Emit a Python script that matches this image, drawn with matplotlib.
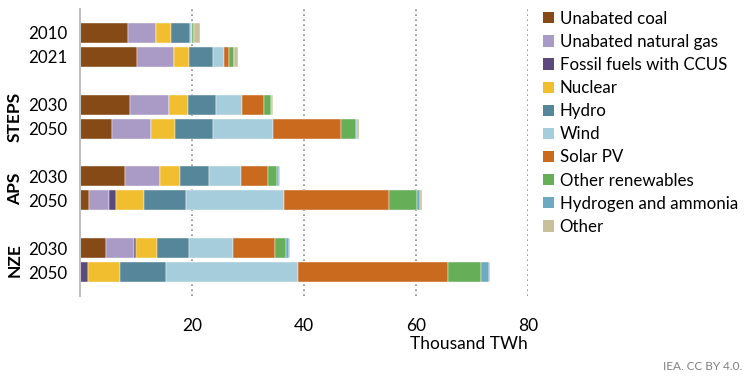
import matplotlib
matplotlib.use("Agg")
import matplotlib.pyplot as plt
from matplotlib import transforms
from matplotlib.patches import Patch

plt.rcParams['font.family'] = ['Lato', 'DejaVu Sans']

years = ["2010", "2021", "2030", "2050", "2030", "2050", "2030", "2050"]
groups = ["STEPS", "APS", "NZE"]
categories = ["Unabated coal", "Unabated natural gas", "Fossil fuels with CCUS", "Nuclear",
              "Hydro", "Wind", "Solar PV", "Other renewables", "Hydrogen and ammonia", "Other"]

unabated_coal = [8.6, 10.1, 8.9, 5.8, 8.0, 1.55, 4.65, 0.0]
unabated_gas = [4.9, 6.6, 6.95, 6.8, 6.2, 3.6, 5.05, 0.0]
fossil_ccus = [0.0, 0.0, 0.0, 0.1, 0.1, 1.25, 0.3, 1.35]
nuclear = [2.7, 2.75, 3.35, 4.35, 3.55, 5.1, 3.8, 5.85]
hydro = [3.45, 4.35, 5.05, 6.7, 5.1, 7.5, 5.7, 8.2]
wind = [0.3, 1.85, 4.6, 10.7, 5.85, 17.4, 7.8, 23.45]
solar_pv = [0.05, 1.0, 4.0, 12.1, 4.8, 18.75, 7.55, 26.9]
other_renewables = [0.4, 0.8, 1.3, 2.8, 1.65, 5.1, 1.9, 5.8]
hydrogen_ammonia = [0.0, 0.0, 0.1, 0.1, 0.25, 0.55, 0.6, 1.55]
other = [0.95, 0.75, 0.3, 0.4, 0.2, 0.3, 0.2, 0.1]

series = [unabated_coal, unabated_gas, fossil_ccus, nuclear, hydro, wind,
          solar_pv, other_renewables, hydrogen_ammonia, other]
colors = ["#854A16", "#A99BC5", "#5B4A7E", "#F0BE2E", "#568699", "#A6CDDB",
          "#C96A1F", "#66AE57", "#6EA9C4", "#C8C09A"]

positions = [0, 1, 3, 4, 6, 7, 9, 10]

fig = plt.figure(figsize=(7.5, 3.79), dpi=100)
ax = fig.add_axes([80/750, 83/379, 448/750, 287/379])

left = [0.0] * len(years)
for vals, col, lab in zip(series, colors, categories):
    ax.barh(positions, vals, left=left, height=0.84, color=col, label=lab,
            edgecolor="white", linewidth=0.3)
    left = [a + b for a, b in zip(left, vals)]

ax.set_xlim(0, 80)
ax.set_ylim(11, -1)
ax.set_xticks([20, 40, 60, 80])
ax.set_xticklabels(["20", "40", "60", "80"], fontsize=12.5)
ax.set_yticks(positions)
ax.set_yticklabels(years, fontsize=12.2)
ax.tick_params(axis='both', length=0)
ax.tick_params(axis='y', pad=9)
ax.tick_params(axis='x', pad=16)
ax.xaxis.grid(True, linestyle=(0, (1, 2)), color="#8C8C8C", linewidth=1.2)
ax.set_axisbelow(True)
for s in ["top", "right", "bottom"]:
    ax.spines[s].set_visible(False)
ax.spines["left"].set_color("#BFBFBF")
ax.spines["left"].set_linewidth(1.5)

trans = transforms.blended_transform_factory(fig.transFigure, ax.transData)
for g, y in zip(groups, [3.5, 6.5, 9.5]):
    ax.text(15/750, y, g, transform=trans, rotation=90, ha="center", va="center",
            fontsize=12.5, fontweight="bold")

fig.text(528/750, 1 - 344/379, "Thousand TWh", ha="right", va="center", fontsize=12.5)
fig.text(742/750, 1 - 367/379, "IEA. CC BY 4.0.", ha="right", va="center",
         fontsize=8.5, color="#808080")

handles = [Patch(facecolor=c, edgecolor="none") for c in colors]
fig.legend(handles, categories, loc="upper left", bbox_to_anchor=(536/750, 1 - 4/379),
           frameon=False, fontsize=12.2, handlelength=0.65, handleheight=0.65,
           handletextpad=0.35, labelspacing=0.42, borderaxespad=0)

fig.savefig("out.png", dpi=100)
